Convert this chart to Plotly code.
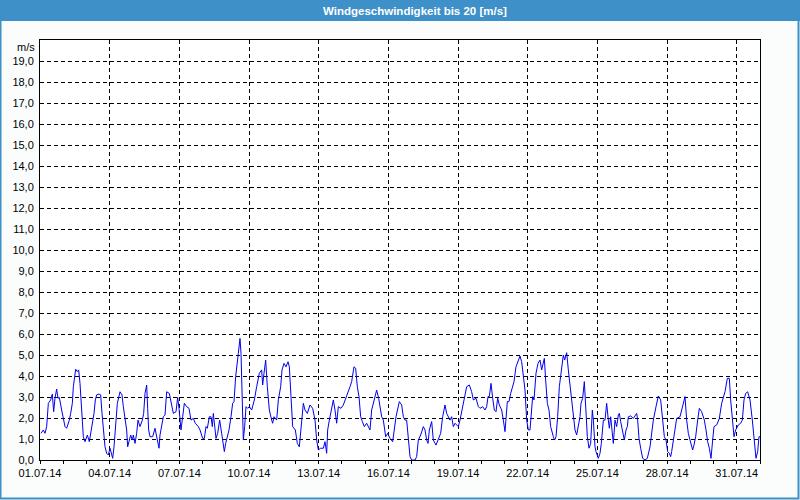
import pandas as pd
import plotly.graph_objects as go

# hours since 01.07.2014 00:00
hours = [
    1.03, 3.44, 5.17, 6.89, 8.61, 11.02, 12.74, 14.12, 15.50, 17.22, 18.60, 19.98, 22.39, 24.11, 25.83, 27.56,
    30.31, 31.69, 33.41, 34.44, 36.17, 36.86, 38.58, 39.96, 41.33, 42.37, 43.40, 44.78, 46.50, 48.91, 50.98,
    52.70, 54.42, 55.80, 57.18, 58.56, 60.97, 62.69, 64.07, 65.44, 67.17, 68.89, 70.61, 72.33, 73.37, 75.09,
    76.47, 77.50, 78.53, 79.91, 82.67, 84.73, 86.11, 87.83, 89.56, 90.59, 91.97, 93.69, 95.41, 96.44, 98.17,
    99.89, 101.27, 103.33, 105.74, 107.12, 108.50, 110.22, 111.26, 112.29, 113.67, 116.42, 118.83, 120.56,
    122.97, 124.00, 125.72, 127.44, 129.17, 130.89, 133.64, 135.37, 137.78, 140.53, 142.26, 143.64, 144.67,
    145.70, 147.42, 149.14, 151.56, 153.97, 156.03, 158.44, 160.51, 163.61, 165.33, 168.09, 169.81, 171.53,
    172.91, 174.98, 176.70, 178.08, 179.11, 180.83, 181.87, 183.59, 185.66,
    187.72, 189.45, 190.48, 191.86, 193.58, 195.30, 197.37, 199.09, 200.47, 202.19, 204.95, 206.67, 207.70,
    208.39, 209.08, 210.11, 211.49, 212.87, 214.59, 216.31, 218.72, 221.48, 223.89, 226.65, 229.06, 230.09,
    231.47, 233.19, 234.91, 236.98, 239.39, 240.42, 241.80, 244.56, 246.28, 248.69, 250.07, 252.14, 254.20,
    256.27, 257.65, 259.02, 261.09, 263.85, 265.91, 267.98, 269.70, 272.11, 273.84, 276.24, 279.00, 281.76,
    284.17, 285.89, 287.61, 290.02, 292.78, 294.50, 296.22, 297.26, 298.98, 301.39, 303.11, 304.83, 306.56,
    308.28, 311.04, 313.44, 316.89, 320.33, 322.06, 324.47, 326.19, 327.91, 329.64, 331.36, 333.08, 335.15,
    337.56, 341.00, 342.73, 345.14, 347.89, 349.96, 353.06, 354.78, 357.20, 359.26, 361.67, 364.43, 366.15,
    367.87, 371.31,
    373.72, 375.45, 377.17, 378.89, 380.61, 382.34, 384.06, 387.50, 389.22, 390.94, 393.36, 396.11, 397.84,
    399.56, 400.94, 402.31, 404.72, 406.45, 409.20, 411.61, 414.02, 416.09, 418.50, 420.22, 421.94, 423.67,
    425.39, 427.11, 428.83, 430.56, 432.28, 434.00, 435.72, 437.45, 439.17, 440.89, 443.65, 446.06, 447.78,
    450.53, 452.94, 454.67, 457.42, 459.83, 461.56, 462.94, 464.31, 466.03, 467.76, 469.48, 471.20, 472.92,
    474.65, 477.06, 478.78, 480.50, 482.91, 484.64, 486.36, 488.08, 489.80, 491.87, 494.28, 496.00, 497.72,
    499.45, 501.17, 502.89, 504.61, 506.33, 507.71, 509.09, 510.47, 512.53, 514.60, 516.67, 518.39, 520.11,
    521.14, 522.52, 524.25, 525.97, 527.69, 530.45, 531.83, 533.20, 534.92, 536.65, 539.06, 540.78, 542.16,
    544.22, 545.95, 547.67, 550.08, 551.45, 552.83, 554.56, 556.28, 558.00,
    559.03, 560.76, 562.48, 563.86, 565.58, 567.30, 569.02, 570.75, 571.78, 573.50, 574.54, 576.95, 578.67,
    580.05, 582.11, 583.84, 585.56, 587.28, 588.31, 589.69, 591.41, 592.45, 594.17, 595.89, 597.61, 598.65,
    600.02, 601.75, 603.81, 605.54, 606.91, 607.94, 610.36, 613.11, 616.56, 617.59, 618.97, 620.69, 622.76,
    625.17, 627.58, 630.33, 632.06, 633.78, 636.53, 638.94, 641.36, 643.42, 645.14, 646.87, 648.59, 650.31,
    651.69, 652.72, 654.45, 656.17, 657.89, 661.33, 664.09, 666.50, 668.22, 669.95, 671.67, 674.42, 675.80,
    677.52, 679.59, 681.31, 683.72, 686.48, 688.20, 689.92, 691.65, 693.37, 695.09, 696.47, 699.22, 701.98,
    704.39, 706.11, 707.83, 710.24, 712.31, 713.69, 715.41, 717.13, 718.86, 721.61, 724.02, 725.75, 727.47,
    729.19, 731.26, 733.67, 736.08, 738.14, 739.86, 741.59, 742.97, 744.00,
]

speed = [
    1.27, 1.43, 1.27, 1.59, 2.70, 2.86, 3.14, 2.30, 2.94, 3.38, 2.94, 2.98, 2.38, 1.90, 1.59, 1.51,
    1.90, 2.22, 2.70, 3.49, 4.13, 4.32, 4.21, 4.29, 3.65, 2.70, 1.90, 1.11, 0.87, 1.19, 0.87,
    1.35, 1.90, 2.22, 2.86, 3.10, 3.14, 3.10, 2.22, 1.43, 0.63, 0.32, 0.24, 0.56, 0.32, 0.08,
    0.63, 1.27, 1.90, 2.70, 3.25, 3.10, 2.54, 1.90, 1.43, 0.63, 0.95, 1.19, 0.95, 1.19, 0.79,
    1.27, 1.90, 1.59, 1.90, 2.22, 3.17, 3.57, 2.46, 1.43, 1.11, 1.11, 1.51, 1.11,
    0.56, 1.19, 1.59, 2.06, 2.14, 3.25, 3.17, 2.70, 2.22, 2.30, 2.98, 2.46, 1.90,
    1.43, 2.06, 2.70, 2.54, 2.46, 1.90, 1.98, 1.75, 1.59, 1.43, 1.03, 1.03, 1.59,
    1.51, 2.06, 2.06, 1.59, 2.22, 1.35, 1.03, 1.27, 1.90,
    1.27, 0.63, 0.40, 0.79, 1.11, 1.43, 2.06, 2.70, 2.78, 3.97, 5.08, 5.79, 5.08,
    3.81, 1.90, 0.95, 1.59, 2.54, 2.46, 2.54, 2.38, 2.86, 3.49, 4.13, 4.29, 3.57,
    4.13, 4.76, 3.49, 2.38, 1.90, 1.75, 2.06, 1.90, 2.86, 3.49, 4.29, 4.60, 4.44,
    4.68, 4.44, 3.33, 1.59, 1.43, 0.79, 0.63, 1.43, 2.70, 2.38, 2.22, 2.62, 2.46,
    1.90, 0.95, 0.48, 0.56, 0.56, 0.87, 0.32, 1.43, 1.90, 2.54, 2.86, 2.38, 1.75,
    2.54, 2.46, 2.62, 3.02, 3.49, 3.73, 4.44, 4.37, 3.49, 3.02, 2.06, 1.83, 1.59,
    1.75, 1.43, 2.38, 2.86, 3.33, 2.94, 2.06, 1.90, 1.11, 1.27, 1.03, 0.87, 1.59,
    2.06, 2.78,
    2.62, 2.06, 1.90, 1.90, 1.11, 0.16, 0.00, 0.00, 0.16, 0.95, 1.19, 1.59, 1.43,
    0.95, 0.79, 1.43, 1.83, 0.95, 0.71, 1.03, 1.27, 2.06, 2.62, 2.22, 2.06, 1.90,
    2.06, 1.59, 1.75, 1.67, 1.59, 1.90, 2.30, 2.62, 3.02, 3.49, 3.57, 3.25, 2.86,
    2.94, 2.54, 2.46, 2.54, 2.38, 2.54, 3.02, 3.02, 3.65, 2.94, 2.38, 2.30, 2.94,
    2.62, 2.38, 1.90, 1.35, 2.78, 2.78, 3.17, 3.49, 3.73, 4.44, 4.76, 4.95, 4.68,
    3.81, 3.33, 1.90, 1.43, 1.43, 2.06, 3.02, 2.86, 4.13, 4.60, 4.76, 4.29, 4.68,
    4.84, 3.81, 2.70, 2.38, 1.59, 1.11, 0.95, 1.11, 2.06, 3.49, 4.44, 5.00, 4.76,
    5.11, 4.29, 3.49, 2.46, 2.06, 1.43, 1.19, 1.59, 2.06,
    2.70, 2.94, 3.73, 2.38, 1.11, 0.56, 0.79, 2.38, 1.90, 0.63, 0.40, 0.08, 0.32,
    0.79, 1.90, 1.90, 2.70, 1.90, 1.51, 2.06, 1.43, 0.79, 1.90, 1.59, 2.14, 2.22,
    1.83, 1.35, 0.95, 1.43, 1.59, 2.06, 2.10, 1.98, 2.22, 1.90, 1.03, 0.56, 0.08,
    0.00, 0.08, 0.63, 1.27, 1.90, 2.54, 3.05, 2.86, 2.06, 1.11, 0.95, 0.40, 0.32,
    0.16, 0.40, 0.95, 1.59, 1.98, 2.06, 2.54, 3.02, 1.90, 1.27, 0.95, 0.48, 0.71,
    1.11, 1.90, 2.46, 2.30, 1.90, 1.43, 0.87, 0.56, 0.08, 0.95, 1.59, 1.67, 1.98,
    2.70, 2.94, 3.25, 3.89, 3.89, 2.86, 1.90, 1.11, 1.43, 1.67, 1.75, 1.90, 2.86,
    3.17, 3.25, 2.86, 1.90, 0.95, 0.08, 0.40, 1.11, 1.11,
]

title_text = "Windgeschwindigkeit bis 20 [m/s]"
unit_label = "m/s"
y_max = 20
y_ticks = list(range(0, 20))
start = pd.Timestamp("2014-07-01")
end = pd.Timestamp("2014-08-01")

times = start + pd.to_timedelta(hours, unit="h")

BLUE = "#3d90c8"
W, H = 800, 500
ML, MR, MT, MB = 40, 40, 40, 40
pw, ph = W - ML - MR, H - MT - MB

def px_x(px):
    return (px - ML) / pw

def px_y(py):
    return 1 - (py - MT) / ph

fig = go.Figure()
fig.add_trace(go.Scatter(x=times, y=speed, mode="lines",
                         line=dict(color="#0000f0", width=1), hoverinfo="skip"))

font = dict(family="Liberation Sans, Arial, sans-serif", size=11, color="#000000")

fig.update_layout(
    width=W, height=H,
    margin=dict(l=ML, r=MR, t=MT, b=MB, pad=0, autoexpand=False),
    paper_bgcolor="#fbfdfd",
    plot_bgcolor="#ffffff",
    showlegend=False,
    separators=",.",
    font=font,
    xaxis=dict(
        type="date", range=[start, end], automargin=False,
        tick0=start, dtick=3 * 86400000, tickformat="%d.%m.%y",
        ticks="outside", ticklen=3, tickcolor="#000000",
        minor=dict(dtick=86400000, ticks="outside", ticklen=3, tickcolor="#000000", showgrid=False),
        showgrid=True, gridcolor="#000000", griddash="4px,3px", gridwidth=1,
        showline=True, linecolor="#000000", linewidth=1, mirror=True,
        zeroline=False, tickfont=font,
    ),
    yaxis=dict(
        range=[0, y_max], automargin=False,
        tickmode="array", tickvals=y_ticks, tickformat=".1f",
        ticks="", showgrid=True, gridcolor="#000000", griddash="4px,3px", gridwidth=1,
        showline=True, linecolor="#000000", linewidth=1, mirror=True,
        zeroline=False, tickfont=font, ticklabelstandoff=3,
    ),
    shapes=[
        dict(type="rect", xref="paper", yref="paper",
             x0=px_x(0), x1=px_x(W), y0=px_y(0), y1=px_y(21),
             fillcolor=BLUE, line=dict(width=0), layer="below"),
        dict(type="rect", xref="paper", yref="paper",
             x0=px_x(0.5), x1=px_x(W - 1.5), y0=px_y(0), y1=px_y(H - 1.5),
             fillcolor="rgba(0,0,0,0)", line=dict(color=BLUE, width=2), layer="below"),
    ],
    annotations=[
        dict(text="<b>" + title_text + "</b>", xref="paper", yref="paper",
             x=px_x(415), y=px_y(10.5), xanchor="center", yanchor="middle",
             showarrow=False, font=dict(family="Liberation Sans, Arial, sans-serif", size=11.5, color="#ffffff")),
        dict(text=unit_label, xref="paper", yref="paper",
             x=px_x(37), y=px_y(47), xanchor="right", yanchor="middle",
             showarrow=False, font=font),
    ],
)

fig.write_html("out.html", config={"displayModeBar": False},
               post_script="document.body.style.margin='0';document.body.style.overflow='hidden';")
